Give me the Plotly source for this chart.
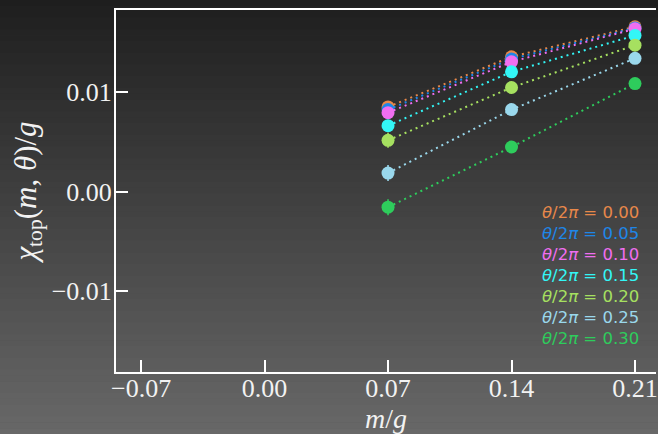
import plotly.graph_objects as go

# ---- data ----
m_values = [0.07, 0.14, 0.21]
theta_labels = ["0.00", "0.05", "0.10", "0.15", "0.20", "0.25", "0.30"]
chi_000 = [0.00848, 0.01351, 0.01652]
chi_005 = [0.00821, 0.01329, 0.01640]
chi_010 = [0.00790, 0.01300, 0.01632]
chi_015 = [0.00660, 0.01200, 0.01565]
chi_020 = [0.00513, 0.01043, 0.01467]
chi_025 = [0.00185, 0.00821, 0.01335]
chi_030 = [-0.00157, 0.00446, 0.01082]
err_000 = [0.0003, 0.0002, 0.0002]
err_005 = [0.0003, 0.0002, 0.0002]
err_010 = [0.0003, 0.0002, 0.0002]
err_015 = [0.0005, 0.0003, 0.0002]
err_020 = [0.00075, 0.0004, 0.0003]
err_025 = [0.0008, 0.0004, 0.0003]
err_030 = [0.0008, 0.0004, 0.0003]
x_ticks = [-0.07, 0.00, 0.07, 0.14, 0.21]
y_ticks = [-0.01, 0.00, 0.01]
y_tick_text = ["\u22120.01", "0.00", "0.01"]
x_tick_text = ["\u22120.07", "0.00", "0.07", "0.14", "0.21"]

series = [chi_000, chi_005, chi_010, chi_015, chi_020, chi_025, chi_030]
errors = [err_000, err_005, err_010, err_015, err_020, err_025, err_030]
colors = ["#e8884a", "#1e86e8", "#f06ef0", "#33f6f6", "#a6e060", "#9ad8ec", "#2ecc5c"]

W, H = 658, 434
ML, MR, MT, MB = 116, 0, 10, 62
PW, PH = W - ML - MR, H - MT - MB

fig = go.Figure()
for lab, ys, es, c in zip(theta_labels, series, errors, colors):
    fig.add_trace(go.Scatter(
        x=m_values, y=ys, mode="lines+markers",
        name="\u03b8/2\u03c0 = " + lab,
        line=dict(color=c, width=2, dash="2px,4px"),
        marker=dict(color=c, size=13),
        error_y=dict(type="data", array=es, visible=True, color=c, thickness=1.6, width=0),
        showlegend=False,
    ))

# background gradient (figure-wide) as stacked strips
shapes = []
n = 74
top_c, bot_c = 0x1e, 0x68
for i in range(n):
    py0 = H * i / n
    py1 = H * (i + 1) / n + 0.6
    g = round(top_c + (bot_c - top_c) * (i + 0.5) / n)
    col = "#%02x%02x%02x" % (g, g, g)
    shapes.append(dict(
        type="rect", xref="paper", yref="paper", layer="below",
        x0=-ML / PW - 0.01, x1=1.01,
        y0=(H - MB - py1) / PH, y1=(H - MB - py0) / PH,
        fillcolor=col, line=dict(width=0),
    ))

# legend as coloured text
annotations = []
leg_y = [212, 233, 254, 275, 296, 317, 338]
for lab, c, py in zip(theta_labels, colors, leg_y):
    annotations.append(dict(
        xref="paper", yref="paper",
        x=(643 - ML) / PW, y=(H - MB - py) / PH,
        xanchor="right", yanchor="middle", showarrow=False,
        text="<i>\u03b8</i>/2<i>\u03c0</i> = " + lab,
        font=dict(family="DejaVu Sans", size=16.5, color=c),
    ))

serif = "Liberation Serif"
fig.update_layout(
    width=W, height=H,
    margin=dict(l=ML, r=MR, t=MT, b=MB),
    paper_bgcolor="#3f3f3f",
    plot_bgcolor="rgba(0,0,0,0)",
    shapes=shapes,
    annotations=annotations,
    font=dict(family=serif, color="#f2f2f2"),
    xaxis=dict(
        range=[-0.0842, 0.2219],
        tickvals=x_ticks, ticktext=x_tick_text,
        ticks="inside", ticklen=12, tickwidth=2, tickcolor="white",
        ticklabeloverflow="allow", ticklabelstandoff=-8,
        showline=True, linecolor="white", linewidth=2, mirror=True,
        showgrid=False, zeroline=False,
        tickfont=dict(family=serif, size=26, color="#f2f2f2"),
        title=dict(text="<i>m</i>/<i>g</i>", font=dict(family=serif, size=28, color="#f2f2f2"), standoff=0),
    ),
    yaxis=dict(
        range=[-0.0181, 0.0182],
        tickvals=y_ticks, ticktext=y_tick_text,
        ticks="inside", ticklen=12, tickwidth=2, tickcolor="white",
        ticklabelstandoff=-3,
        showline=True, linecolor="white", linewidth=2, mirror=False,
        showgrid=False, zeroline=False,
        tickfont=dict(family=serif, size=26, color="#f2f2f2"),
        title=dict(text="<i>\u03c7</i><sub>top</sub>(<i>m</i>, <i>\u03b8</i>)/<i>g</i>",
                   font=dict(family=serif, size=31, color="#f2f2f2"), standoff=6),
    ),
)

fig.write_html("out.html", config={"displayModeBar": False},
               post_script="document.body.style.margin='0';document.body.style.overflow='hidden';")
